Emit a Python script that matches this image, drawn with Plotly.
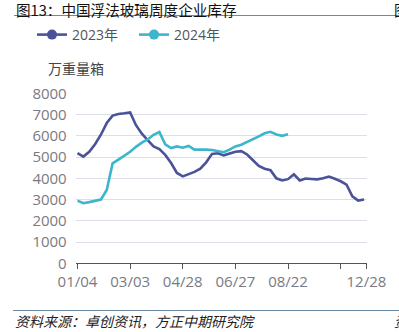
import plotly.graph_objects as go

# Weekly float-glass enterprise inventory (10k weight boxes)
inv_2023 = [5180, 5020, 5250, 5600, 6050, 6600, 6950, 7030, 7060, 7100,
            6500, 6100, 5800, 5500, 5370, 5100, 4720, 4250, 4090, 4180,
            4300, 4450, 4750, 5150, 5180, 5080, 5150, 5250, 5280, 5120,
            4850, 4580, 4450, 4380, 4000, 3900, 3960, 4190, 3900, 3990,
            3970, 3950, 4000, 4080, 3980, 3860, 3700, 3150, 2950, 3000]
inv_2024 = [2950, 2830, 2880, 2940, 3000, 3450, 4700, 4880, 5050, 5250,
            5480, 5680, 5830, 6050, 6180, 5600, 5420, 5500, 5440, 5520,
            5350, 5360, 5350, 5330, 5280, 5230, 5350, 5500, 5580, 5700,
            5830, 5970, 6120, 6190, 6060, 6000, 6070]
tick_pos = [0, 9, 18, 27, 36, 45, 49.4]
tick_text = ["01/04", "03/03", "04/28", "06/27", "08/22", "", "12/28"]
y_ticks = [0, 1000, 2000, 3000, 4000, 5000, 6000, 7000, 8000]

C23 = "#4a5398"
C24 = "#3db5cd"
W, H = 399, 332

def px(x):
    return x / W

def py(y):
    return 1 - y / H

fig = go.Figure()
fig.add_trace(go.Scatter(x=list(range(len(inv_2023))), y=inv_2023, mode="lines",
                         line=dict(color=C23, width=2.6), showlegend=False))
fig.add_trace(go.Scatter(x=list(range(len(inv_2024))), y=inv_2024, mode="lines",
                         line=dict(color=C24, width=2.6), showlegend=False))
# legend entries with line + dot symbol
fig.add_trace(go.Scatter(x=[None], y=[None], mode="lines+markers", name="2023年",
                         line=dict(color=C23, width=2.6), marker=dict(size=10, color=C23)))
fig.add_trace(go.Scatter(x=[None], y=[None], mode="lines+markers", name="2024年",
                         line=dict(color=C24, width=2.6), marker=dict(size=10, color=C24)))

font_num = "Open Sans, Noto Sans CJK SC, sans-serif"
font_cjk = "Noto Sans CJK SC, sans-serif"

fig.update_layout(
    width=W, height=H,
    margin=dict(l=0, r=0, t=0, b=0, autoexpand=False),
    paper_bgcolor="white", plot_bgcolor="white",
    showlegend=True,
    legend=dict(orientation="h", x=px(32), y=py(35), xanchor="left", yanchor="middle",
                font=dict(family=font_num, size=14, color="#555555"),
                bgcolor="rgba(0,0,0,0)", entrywidth=57, entrywidthmode="pixels",
                itemclick=False),
    xaxis=dict(domain=[px(75.7), px(366.7)], range=[-0.31, 49.45], automargin=False,
               tickmode="array", tickvals=tick_pos, ticktext=tick_text,
               showgrid=False, zeroline=False,
               showline=True, linecolor="#555555", linewidth=1,
               ticks="outside", ticklen=5, tickcolor="#555555",
               tickfont=dict(family=font_num, size=15, color="#7a7a82")),
    yaxis=dict(domain=[py(263.3), py(93.3)], range=[0, 8000], automargin=False,
               tickmode="array", tickvals=y_ticks,
               showgrid=True, gridcolor="#dcdfea", gridwidth=1,
               zeroline=False, showline=False, ticks="",
               ticklabelstandoff=8,
               tickfont=dict(family=font_num, size=15, color="#7a7a82")),
)

# title, unit and source texts
fig.add_annotation(text="图13：中国浮法玻璃周度企业库存", x=px(14), y=py(9), xref="paper", yref="paper",
                   xanchor="left", yanchor="middle", showarrow=False,
                   font=dict(family=font_cjk, size=14.6, color="#111111"))
fig.add_annotation(text="图", x=px(392), y=py(9), xref="paper", yref="paper",
                   xanchor="left", yanchor="middle", showarrow=False,
                   font=dict(family=font_cjk, size=14.6, color="#111111"))
fig.add_annotation(text="万重量箱", x=px(46), y=py(68), xref="paper", yref="paper",
                   xanchor="left", yanchor="middle", showarrow=False,
                   font=dict(family=font_cjk, size=14, color="#444444"))
fig.add_annotation(text="资料来源：卓创资讯，方正中期研究院", x=px(13), y=py(320.5), xref="paper", yref="paper",
                   xanchor="left", yanchor="middle", showarrow=False,
                   font=dict(family=font_cjk, size=14, color="#222222", style="italic"))
fig.add_annotation(text="资", x=px(392), y=py(320.5), xref="paper", yref="paper",
                   xanchor="left", yanchor="middle", showarrow=False,
                   font=dict(family=font_cjk, size=14, color="#222222", style="italic"))

# rule lines under the title and above the source
fig.add_shape(type="line", xref="paper", yref="paper", x0=px(14), x1=1, y0=py(15.5), y1=py(15.5),
              line=dict(color="#6b8aa3", width=1.2))
fig.add_shape(type="line", xref="paper", yref="paper", x0=px(13), x1=1, y0=py(310.5), y1=py(310.5),
              line=dict(color="#6b8aa3", width=1.2))

fig.write_html("out.html")
